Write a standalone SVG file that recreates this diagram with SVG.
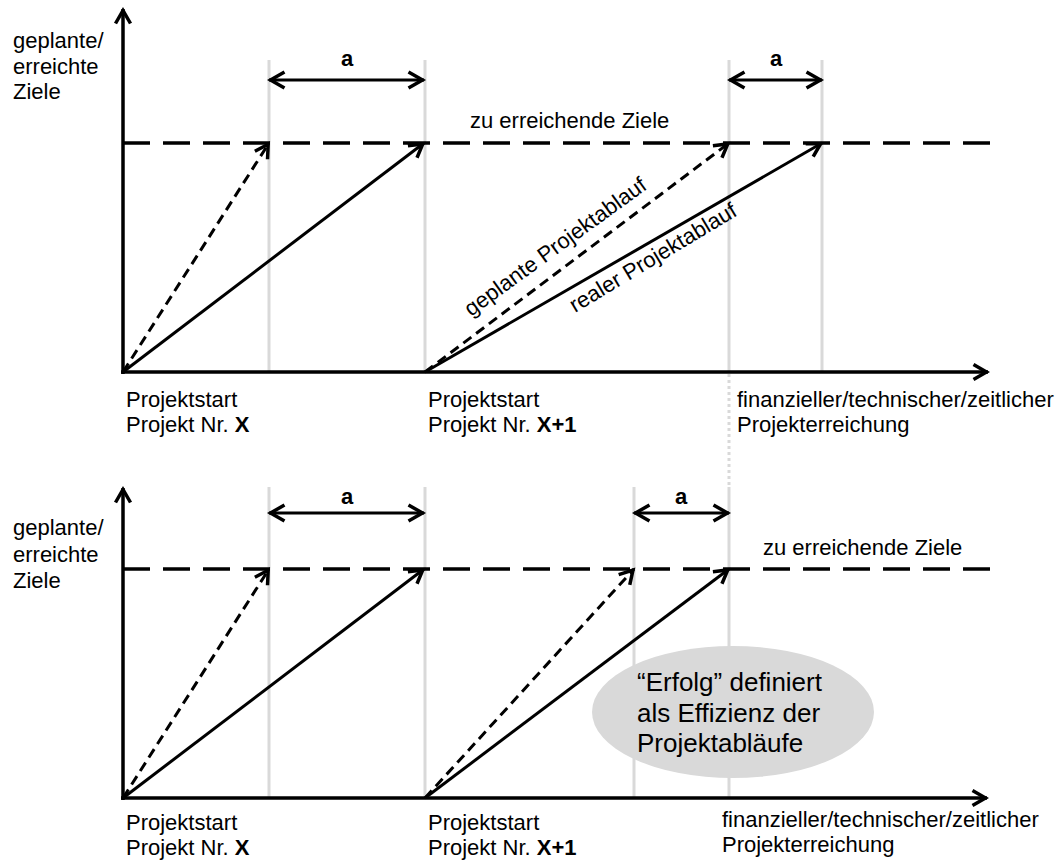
<svg xmlns="http://www.w3.org/2000/svg" width="1058" height="861" viewBox="0 0 1058 861">
<style>
text{font-family:"Liberation Sans",Arial,sans-serif;font-size:22px;fill:#000}
.a{font-weight:bold;text-anchor:middle}
.big{font-size:26px}
.grid{stroke:#d9d9d9;stroke-width:3;fill:none}
.dot{stroke:#d9d9d9;stroke-width:3;stroke-dasharray:3 3;fill:none}
.axis{stroke:#000;stroke-width:3.5;fill:none;marker-end:url(#head)}
.goal{stroke:#000;stroke-width:3.5;fill:none;stroke-dasharray:27 13}
.real{stroke:#000;stroke-width:3;fill:none;marker-end:url(#head)}
.plan{stroke:#000;stroke-width:3;fill:none;stroke-dasharray:10 6;marker-end:url(#head)}
.dim{stroke:#000;stroke-width:3;fill:none;marker-start:url(#head2);marker-end:url(#head2)}
</style>
<defs>
<marker id="head" viewBox="-18 -12 22 24" refX="1.5" refY="0" markerWidth="22" markerHeight="24" markerUnits="userSpaceOnUse" orient="auto">
<path d="M-13,-7.5 L0,0 L-13,7.5" fill="none" stroke="#000" stroke-width="3.5" stroke-dasharray="none" stroke-linejoin="miter"/>
</marker>
<marker id="head2" viewBox="-18 -12 22 24" refX="1.5" refY="0" markerWidth="22" markerHeight="24" markerUnits="userSpaceOnUse" orient="auto-start-reverse">
<path d="M-14,-8 L0,0 L-14,8" fill="none" stroke="#000" stroke-width="3.5" stroke-dasharray="none" stroke-linejoin="miter"/>
</marker>
</defs>
<rect width="1058" height="861" fill="#fff"/>

<g id="gridlines">
<line class="grid" x1="269" y1="60" x2="269" y2="372"/>
<line class="grid" x1="425" y1="60" x2="425" y2="372"/>
<line class="grid" x1="729" y1="60" x2="729" y2="372"/>
<line class="grid" x1="822" y1="60" x2="822" y2="372"/>
<line class="dot" x1="729" y1="374" x2="729" y2="487"/>
<line class="grid" x1="269" y1="487" x2="269" y2="798"/>
<line class="grid" x1="425" y1="487" x2="425" y2="798"/>
<line class="grid" x1="634" y1="487" x2="634" y2="798"/>
<line class="grid" x1="729" y1="487" x2="729" y2="798"/>
</g>

<g id="ellipse-note">
<ellipse cx="733" cy="712" rx="141" ry="66" fill="#d9d9d9"/>
<text class="big" x="637" y="691">“Erfolg” definiert</text>
<text class="big" x="637" y="722">als Effizienz der</text>
<text class="big" x="637" y="752">Projektabläufe</text>
</g>

<g id="connectors">
<line class="axis" x1="123" y1="374" x2="123" y2="9"/>
<line class="axis" x1="121" y1="372" x2="988" y2="372"/>
<line class="goal" x1="123" y1="143" x2="990" y2="143"/>
<line class="plan" x1="123" y1="372" x2="269" y2="143"/>
<line class="real" x1="123" y1="372" x2="424" y2="143"/>
<line class="plan" x1="425" y1="372" x2="729" y2="143"/>
<line class="real" x1="425" y1="372" x2="822" y2="143"/>
<line class="dim" x1="269" y1="80" x2="424" y2="80"/>
<line class="dim" x1="729" y1="80" x2="822" y2="80"/>

<line class="axis" x1="123" y1="800" x2="123" y2="488"/>
<line class="axis" x1="121" y1="798" x2="987" y2="798"/>
<line class="goal" x1="123" y1="569" x2="990" y2="569"/>
<line class="plan" x1="123" y1="798" x2="269" y2="569"/>
<line class="real" x1="123" y1="798" x2="424" y2="569"/>
<line class="plan" x1="425" y1="798" x2="634" y2="569"/>
<line class="real" x1="425" y1="798" x2="729" y2="569"/>
<line class="dim" x1="269" y1="513" x2="424" y2="513"/>
<line class="dim" x1="634" y1="513" x2="729" y2="513"/>
</g>

<g id="labels-top">
<text x="13" y="48">geplante/</text>
<text x="13" y="74">erreichte</text>
<text x="13" y="99">Ziele</text>
<text class="a" x="347" y="66">a</text>
<text class="a" x="776" y="66">a</text>
<text x="470" y="128">zu erreichende Ziele</text>
<text transform="translate(471,317) rotate(-36)">geplante Projektablauf</text>
<text transform="translate(575,313) rotate(-31)">realer Projektablauf</text>
<text x="126" y="407">Projektstart</text>
<text x="126" y="432">Projekt Nr. <tspan font-weight="bold">X</tspan></text>
<text x="428" y="407">Projektstart</text>
<text x="428" y="432">Projekt Nr. <tspan font-weight="bold">X+1</tspan></text>
<text x="737" y="407">finanzieller/technischer/zeitlicher</text>
<text x="737" y="432">Projekterreichung</text>
</g>

<g id="labels-bottom">
<text x="13" y="535">geplante/</text>
<text x="13" y="562">erreichte</text>
<text x="13" y="588">Ziele</text>
<text class="a" x="347" y="504">a</text>
<text class="a" x="681" y="504">a</text>
<text x="763" y="555">zu erreichende Ziele</text>
<text x="126" y="830">Projektstart</text>
<text x="126" y="855">Projekt Nr. <tspan font-weight="bold">X</tspan></text>
<text x="428" y="830">Projektstart</text>
<text x="428" y="855">Projekt Nr. <tspan font-weight="bold">X+1</tspan></text>
<text x="722" y="827">finanzieller/technischer/zeitlicher</text>
<text x="722" y="852">Projekterreichung</text>
</g>
</svg>
